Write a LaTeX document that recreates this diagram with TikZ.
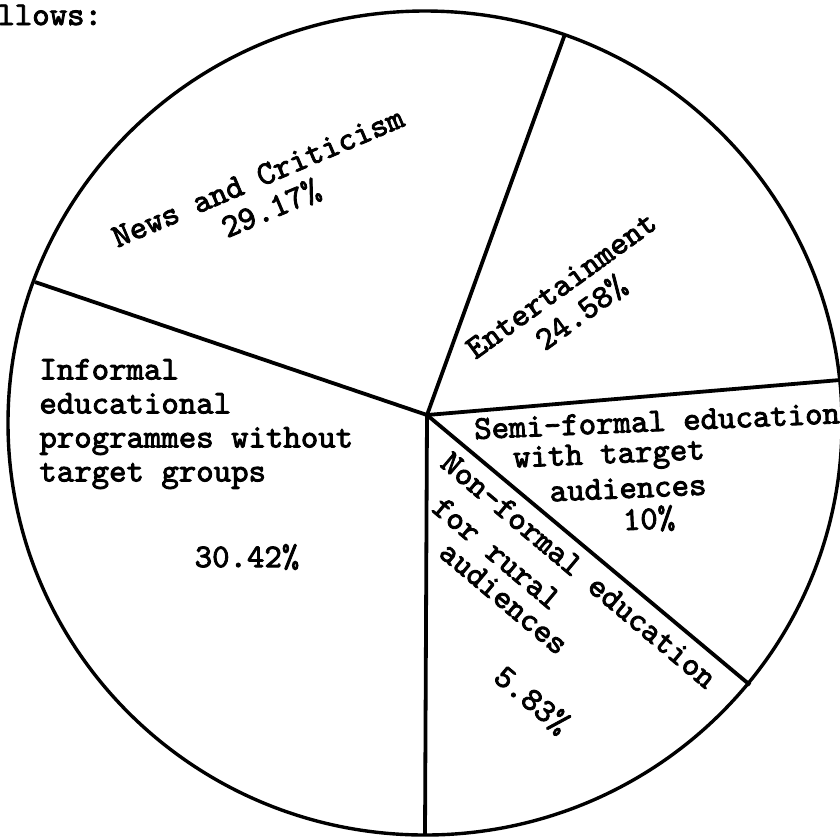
\documentclass[tikz,border=0pt]{standalone}
\usepackage{fontspec}
\usepackage{tikz}
\usetikzlibrary{positioning,calc}
\newfontfamily\typed{lmmono10-regular.otf}[FakeBold=2.6]

\begin{document}
\begin{tikzpicture}[x=0.5pt,y=-0.5pt,
    rim/.style={line width=1.7pt},
    spoke/.style={line width=1.9pt},
    typing/.style={font=\typed\fontsize{16.6}{17}\selectfont, inner sep=0pt}]
    \useasboundingbox (0,0) rectangle (840,837);
    \clip (0,0) rectangle (840,837);

    % pie outline and the spokes between the slices
    \coordinate (mid) at (425,423);
    \coordinate (hub) at (427,415);
    \coordinate (rimA) at (35,282);
    \coordinate (rimB) at (565,34);
    \coordinate (rimC) at (840,380);
    \coordinate (rimD) at (750,685);
    \coordinate (rimE) at (425,835);
    \draw[rim] (mid) ellipse [x radius=208.5pt, y radius=206pt];
    \foreach \r in {rimA,rimB,rimC,rimD,rimE}
        \draw[spoke] (hub) -- (\r);

    % slice labels
    \node[typing, anchor=base west] (follows) at (-3,25) {llows:};
    \node[typing, rotate=23, align=center] (news) at (265,194) {News and Criticism\\29.17\%};
    \node[typing, rotate=36, align=center] (fun) at (572,300) {Entertainment\\24.58\%};
    \node[typing, align=left, anchor=west] (informal) at (39,424) {Informal\\educational\\programmes without\\target groups};
    \node[typing] (informalpc) at (247,557) {30.42\%};
    \node[typing, rotate=2.5] (semiA) at (657,421) {Semi-formal education};
    \node[typing, rotate=2.5] (semiB) at (609,457) {with target};
    \node[typing, rotate=2.5] (semiC) at (628,488) {audiences};
    \node[typing, rotate=2.5] (semiD) at (649,519) {10\%};
    \node[typing, rotate=-40] (nonA) at (579,570) {Non-formal education};
    \node[typing, rotate=-40] (nonB) at (497,553) {for rural};
    \node[typing, rotate=-40] (nonC) at (504,598) {audiences};
    \node[typing, rotate=-40] (nonD) at (532,700) {5.83\%};
\end{tikzpicture}
\end{document}
